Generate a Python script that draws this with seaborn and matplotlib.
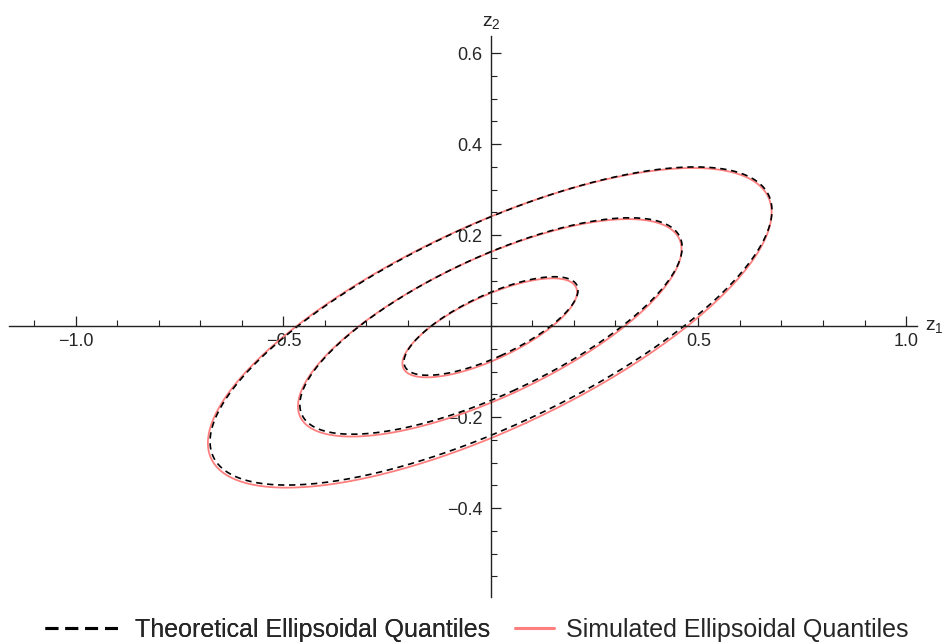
import numpy as np
import pandas as pd
import matplotlib
matplotlib.use("Agg")
import matplotlib.pyplot as plt
import seaborn as sns

# ---- data ----
chi2_levels = [0.575, 2.773, 5.991]          # squared Mahalanobis radii (p = 0.25, 0.75, 0.95)
theoretical_cov = [[0.0765, 0.0287], [0.0287, 0.0204]]
theoretical_mean = [0.0, 0.0]
simulated_cov = [[0.0770, 0.0287], [0.0287, 0.0206]]
simulated_mean = [-0.003, -0.004]
x_major = [-1.0, -0.5, 0.5, 1.0]
x_major_labels = ["\u22121.0", "\u22120.5", "0.5", "1.0"]
y_major = [-0.4, -0.2, 0.2, 0.4, 0.6]
y_major_labels = ["\u22120.4", "\u22120.2", "0.2", "0.4", "0.6"]
series_names = ["Theoretical Ellipsoidal Quantiles", "Simulated Ellipsoidal Quantiles"]


def ellipse(mean, cov, c, n=400):
    vals, vecs = np.linalg.eigh(np.array(cov))
    t = np.linspace(0, 2 * np.pi, n)
    circ = np.vstack([np.cos(t), np.sin(t)])
    pts = vecs @ (np.sqrt(vals * c)[:, None] * circ)
    return pts[0] + mean[0], pts[1] + mean[1]


rows = []
for kind, mean, cov in [(series_names[0], theoretical_mean, theoretical_cov),
                        (series_names[1], simulated_mean, simulated_cov)]:
    for i, c in enumerate(chi2_levels):
        ex, ey = ellipse(mean, cov, c)
        for j, (a, b) in enumerate(zip(ex, ey)):
            rows.append((kind, i, j, a, b))
df = pd.DataFrame(rows, columns=["kind", "level", "order", "z1", "z2"])

sns.set_theme(style="white")
plt.rcParams["font.family"] = ["Liberation Sans", "DejaVu Sans"]
plt.rcParams["mathtext.fontset"] = "custom"
plt.rcParams["mathtext.rm"] = "Liberation Sans"
plt.rcParams["mathtext.it"] = "Liberation Sans"

fig = plt.figure(figsize=(9.48, 6.44), dpi=100)
ax = fig.add_axes([9 / 948, 1 - 597 / 644, (917 - 9) / 948, (597 - 36) / 644])

red = "#FF7F7F"
# draw simulated first, theoretical dashed on top
for i in range(len(chi2_levels)):
    sub = df[(df.kind == series_names[1]) & (df.level == i)]
    sns.lineplot(data=sub, x="z1", y="z2", sort=False, estimator=None, ax=ax,
                 color=red, lw=1.3, label=series_names[1] if i == 0 else None)
for i in range(len(chi2_levels)):
    sub = df[(df.kind == series_names[0]) & (df.level == i)]
    sns.lineplot(data=sub, x="z1", y="z2", sort=False, estimator=None, ax=ax,
                 color="black", lw=1.2, dashes=False, linestyle=(0, (3.8, 2.8)),
                 label=series_names[0] if i == 0 else None)

ax.set_xlim(-1.1614, 1.0265)
ax.set_ylim(-0.5956, 0.6374)
ax.set_xlabel("")
ax.set_ylabel("")
ax.set_facecolor("white")

for s in ["top", "right"]:
    ax.spines[s].set_visible(False)
ax.spines["left"].set_position(("data", 0))
ax.spines["bottom"].set_position(("data", 0))
for s in ["left", "bottom"]:
    ax.spines[s].set_color("#222222")
    ax.spines[s].set_linewidth(1.0)

ax.set_xticks(x_major)
ax.set_xticklabels(x_major_labels)
ax.set_yticks(y_major)
ax.set_yticklabels(y_major_labels)
ax.set_xticks(np.round(np.arange(-1.1, 1.01, 0.1), 2), minor=True)
ax.set_yticks(np.round(np.arange(-0.55, 0.601, 0.05), 2), minor=True)
ax.tick_params(axis="both", which="major", direction="in", length=7.5, width=0.9,
               color="#222222", labelsize=13, pad=5, bottom=True, left=True)
ax.tick_params(axis="both", which="minor", direction="in", length=4.5, width=0.8,
               color="#222222", bottom=True, left=True)
ax.tick_params(axis="y", pad=6)
ax.grid(False)

ax.text(1.0265 + 0.02, 0, r"$\mathregular{z_1}$", fontsize=14, va="center", ha="left")
ax.text(0, 0.6374 + 0.012, r"$\mathregular{z_2}$", fontsize=14, va="bottom", ha="center")

ax.get_legend().remove()
h, l = ax.get_legend_handles_labels()
h0 = h[l.index(series_names[0])]
h1 = h[l.index(series_names[1])]
ycen = 1 - 630 / 644
leg1 = fig.legend([h0], [series_names[0]], loc="center left", bbox_to_anchor=(45 / 948, ycen),
                  frameon=False, fontsize=18, handlelength=3.0, handletextpad=0.6,
                  borderpad=0, borderaxespad=0)
for line in leg1.get_lines():
    line.set_linewidth(2.2)
    line.set_linestyle((0, (4.2, 2.3)))
leg2 = fig.legend([h1], [series_names[1]], loc="center left", bbox_to_anchor=(515 / 948, ycen),
                  frameon=False, fontsize=18, handlelength=1.55, handletextpad=0.5,
                  borderpad=0, borderaxespad=0)
for line in leg2.get_lines():
    line.set_linewidth(2.2)
fig.add_artist(leg1)

fig.savefig("out.png", dpi=100, facecolor="white")
